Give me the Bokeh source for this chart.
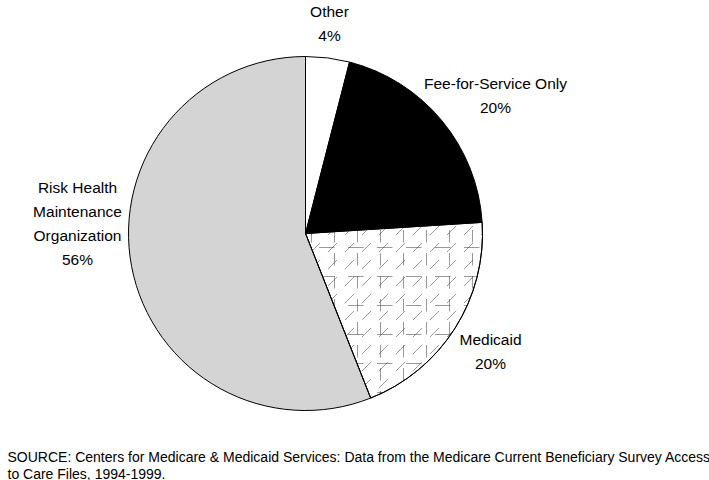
import numpy as np
from bokeh.plotting import figure
from bokeh.models import Range1d, ColumnDataSource
from bokeh.core.properties import value
from bokeh.embed import file_html
from bokeh.resources import INLINE

categories = ["Other", "Fee-for-Service Only", "Medicaid", "Risk Health Maintenance Organization"]
shares = [4, 20, 20, 56]
label_lines = [["Other", "4%"], ["Fee-for-Service Only", "20%"], ["Medicaid", "20%"],
               ["Risk Health", "Maintenance", "Organization", "56%"]]
source_note = ["SOURCE: Centers for Medicare & Medicaid Services: Data from the Medicare Current Beneficiary Survey Access",
               "to Care Files, 1994-1999."]

fills = ["white", "black", "white", "#d4d4d4"]
# label anchor (page px): x center, y of first line
label_pos = [(329, 11), (495, 83), (490, 339), (77, 187)]

W, H = 709, 480
p = figure(width=W, height=H, output_backend="svg", toolbar_location=None,
           x_range=Range1d(0, W), y_range=Range1d(0, H), min_border=0)
p.axis.visible = False
p.grid.visible = False
p.outline_line_color = None
p.background_fill_color = "white"

cx, cy, r = 305, 480 - 233, 177
frac = np.array(shares, dtype=float) / sum(shares)
cum = np.concatenate([[0], np.cumsum(frac)])
start = np.pi / 2 - cum[1:] * 2 * np.pi
end = np.pi / 2 - cum[:-1] * 2 * np.pi

src = ColumnDataSource(dict(x=[cx] * 4, y=[cy] * 4, s=start, e=end, c=fills, cat=categories))
p.wedge(x="x", y="y", radius=r, start_angle="s", end_angle="e", fill_color="c",
        line_color="black", line_width=1, source=src)

# speckle texture for Medicaid slice
i = categories.index("Medicaid")
for pat, sc in [("right_diagonal_dash", 17), ("vertical_dash", 23), ("horizontal_dash", 29)]:
    p.wedge(x=cx, y=cy, radius=r, start_angle=start[i], end_angle=end[i], fill_color=None,
            line_color=None, hatch_pattern=pat, hatch_color="#333333", hatch_weight=0.5,
            hatch_scale=sc)
p.wedge(x=cx, y=cy, radius=r, start_angle=start[i], end_angle=end[i], fill_color=None,
        line_color="black", line_width=1)

xs, ys, ts = [], [], []
for lines, (lx, ly) in zip(label_lines, label_pos):
    for k, t in enumerate(lines):
        xs.append(lx)
        ys.append(480 - (ly + 24 * k))
        ts.append(t)
p.text(x=xs, y=ys, text=ts, text_align="center", text_baseline="middle",
       text_font=value("Liberation Sans"), text_font_size="15.5px", text_color="black")

p.text(x=[7, 7], y=[480 - 456, 480 - 473], text=source_note, text_align="left", text_baseline="middle",
       text_font=value("Liberation Sans"), text_font_size="14px", text_color="black")

open("out.html", "w").write(file_html(p, INLINE))
